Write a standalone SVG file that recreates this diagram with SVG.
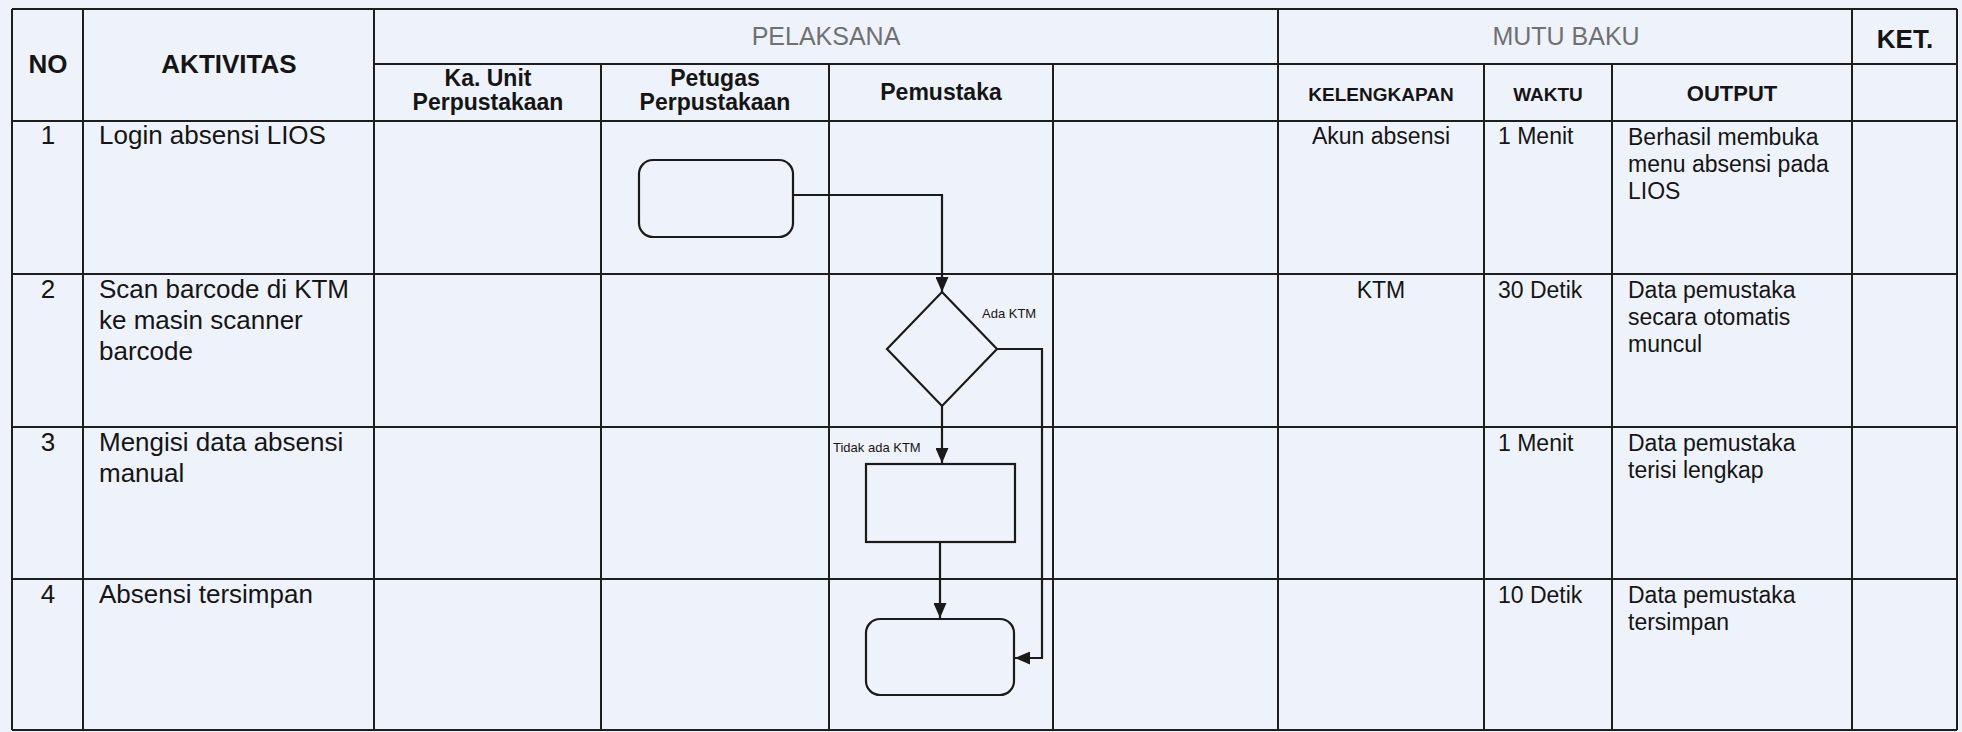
<svg xmlns="http://www.w3.org/2000/svg" width="1962" height="732" viewBox="0 0 1962 732">
<style>
.bg{fill:#eef3fb}
.grid line{stroke:#1e1e1e;stroke-width:2}
text{font-family:"Liberation Sans",Arial,sans-serif;fill:#151515}
.h{font-weight:bold;font-size:26px;text-anchor:middle}
.g{font-size:25px;fill:#707070;text-anchor:middle}
.sh{font-weight:bold;font-size:23px;text-anchor:middle}
.act{font-size:26px}
.num{font-size:26px;text-anchor:middle}
.mu{font-size:23px}
.mid{text-anchor:middle}
.shape{fill:none;stroke:#1a1a1a;stroke-width:2.2}
.conn{fill:none;stroke:#1a1a1a;stroke-width:2.2}
.lbl{font-size:13px}
</style>
<defs>
<marker id="arr" viewBox="0 0 15 13" refX="15" refY="6.5" markerWidth="15" markerHeight="13" markerUnits="userSpaceOnUse" orient="auto"><path d="M0,0 L15,6.5 L0,13 z" fill="#1a1a1a"/></marker>
</defs>
<rect class="bg" x="0" y="0" width="1962" height="732"/>
<g id="table" class="grid">
<line x1="12" y1="9" x2="1957" y2="9"/>
<line x1="374" y1="64" x2="1957" y2="64"/>
<line x1="12" y1="121" x2="1957" y2="121"/>
<line x1="12" y1="274" x2="1957" y2="274"/>
<line x1="12" y1="427" x2="1957" y2="427"/>
<line x1="12" y1="579" x2="1957" y2="579"/>
<line x1="12" y1="730" x2="1957" y2="730"/>
<line x1="12" y1="9" x2="12" y2="730"/>
<line x1="83" y1="9" x2="83" y2="730"/>
<line x1="374" y1="9" x2="374" y2="730"/>
<line x1="601" y1="64" x2="601" y2="730"/>
<line x1="829" y1="64" x2="829" y2="730"/>
<line x1="1053" y1="64" x2="1053" y2="730"/>
<line x1="1278" y1="9" x2="1278" y2="730"/>
<line x1="1484" y1="64" x2="1484" y2="730"/>
<line x1="1612" y1="64" x2="1612" y2="730"/>
<line x1="1852" y1="9" x2="1852" y2="730"/>
<line x1="1957" y1="9" x2="1957" y2="730"/>
</g>
<g id="headers">
<text class="h" x="48" y="73">NO</text>
<text class="h" x="229" y="73">AKTIVITAS</text>
<text class="g" x="826" y="45">PELAKSANA</text>
<text class="g" x="1566" y="45">MUTU BAKU</text>
<text class="h" x="1905" y="48">KET.</text>
<text class="sh" x="488" y="86">Ka. Unit</text>
<text class="sh" x="488" y="110">Perpustakaan</text>
<text class="sh" x="715" y="86">Petugas</text>
<text class="sh" x="715" y="110">Perpustakaan</text>
<text class="sh" x="941" y="100">Pemustaka</text>
<text class="sh" x="1381" y="101" style="font-size:19px">KELENGKAPAN</text>
<text class="sh" x="1548" y="101" style="font-size:19px">WAKTU</text>
<text class="sh" x="1732" y="101" style="font-size:22px">OUTPUT</text>
</g>
<g id="row1">
<text class="num" x="48" y="144">1</text>
<text class="act" x="99" y="144">Login absensi LIOS</text>
<text class="mu mid" x="1381" y="144">Akun absensi</text>
<text class="mu" x="1498" y="144">1 Menit</text>
<text class="mu" x="1628" y="145">Berhasil membuka</text>
<text class="mu" x="1628" y="172">menu absensi pada</text>
<text class="mu" x="1628" y="199">LIOS</text>
</g>
<g id="row2">
<text class="num" x="48" y="298">2</text>
<text class="act" x="99" y="298">Scan barcode di KTM</text>
<text class="act" x="99" y="329">ke masin scanner</text>
<text class="act" x="99" y="360">barcode</text>
<text class="mu mid" x="1381" y="298">KTM</text>
<text class="mu" x="1498" y="298">30 Detik</text>
<text class="mu" x="1628" y="298">Data pemustaka</text>
<text class="mu" x="1628" y="325">secara otomatis</text>
<text class="mu" x="1628" y="352">muncul</text>
</g>
<g id="row3">
<text class="num" x="48" y="451">3</text>
<text class="act" x="99" y="451">Mengisi data absensi</text>
<text class="act" x="99" y="482">manual</text>
<text class="mu" x="1498" y="451">1 Menit</text>
<text class="mu" x="1628" y="451">Data pemustaka</text>
<text class="mu" x="1628" y="478">terisi lengkap</text>
</g>
<g id="row4">
<text class="num" x="48" y="603">4</text>
<text class="act" x="99" y="603">Absensi tersimpan</text>
<text class="mu" x="1498" y="603">10 Detik</text>
<text class="mu" x="1628" y="603">Data pemustaka</text>
<text class="mu" x="1628" y="630">tersimpan</text>
</g>
<g id="start"><rect class="shape" x="639" y="160" width="154" height="77" rx="14"/></g>
<g id="decision"><polygon class="shape" points="942,292 997,349 942,406 887,349"/></g>
<g id="manual"><rect class="shape" x="866" y="464" width="149" height="78"/></g>
<g id="end"><rect class="shape" x="866" y="619" width="148" height="76" rx="14"/></g>
<g id="connectors">
<polyline class="conn" points="793,195 942,195 942,292" marker-end="url(#arr)"/>
<line class="conn" x1="942" y1="406" x2="942" y2="463" marker-end="url(#arr)"/>
<line class="conn" x1="940" y1="542" x2="940" y2="618" marker-end="url(#arr)"/>
<polyline class="conn" points="997,349 1042,349 1042,658 1015,658" marker-end="url(#arr)"/>
<text class="lbl" x="982" y="318">Ada KTM</text>
<text class="lbl" x="833" y="452">Tidak ada KTM</text>
</g>
</svg>
